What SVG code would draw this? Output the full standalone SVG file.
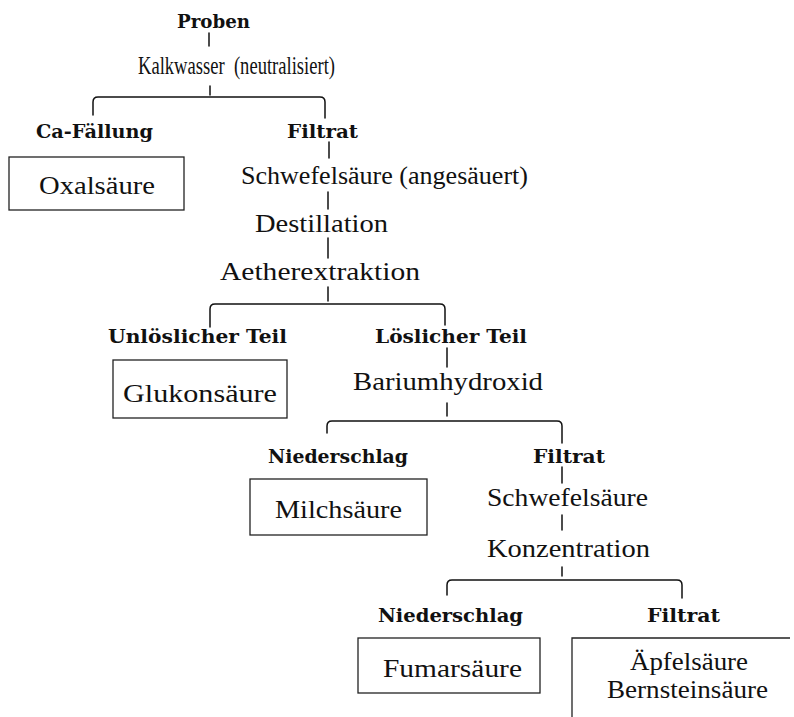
<svg xmlns="http://www.w3.org/2000/svg" width="794" height="717" viewBox="0 0 794 717">
<style>
.b{font-family:"DejaVu Serif","Liberation Serif",serif;font-weight:bold;font-size:18px;fill:#111}
.r{font-family:"Liberation Serif","Times New Roman",serif;font-size:25px;fill:#111}
.c{fill:none;stroke:#111;stroke-width:1.5;stroke-linecap:round}
.box{fill:none;stroke:#222;stroke-width:1.3}
</style>
<rect width="794" height="717" fill="#fff"/>
<g id="connectors" class="c">
<path d="M209,33V46"/>
<path d="M210,86V95"/>
<path d="M93,115V102Q93,97 98,97H320Q325,97 325,102V118"/>
<path d="M329,142V158"/>
<path d="M328,192V209"/>
<path d="M328,238V258"/>
<path d="M328,287V301"/>
<path d="M210,327V309Q210,304 215,304H440Q445,304 445,309V325"/>
<path d="M447,348V367"/>
<path d="M447,403V416"/>
<path d="M327,433V426Q327,421 332,421H557Q562,421 562,426V443"/>
<path d="M562,467V483"/>
<path d="M562,515V530"/>
<path d="M562,567V576"/>
<path d="M447,595V585Q447,580 452,580H677Q682,580 682,585V598"/>
</g>
<g id="proben"><text class="b" x="177" y="28" font-size="17" textLength="73" lengthAdjust="spacingAndGlyphs">Proben</text></g>
<g id="kalkwasser"><text class="r" x="138" y="74" font-size="18" textLength="197" lengthAdjust="spacingAndGlyphs" xml:space="preserve">Kalkwasser  (neutralisiert)</text></g>
<g id="ca-faellung"><text class="b" x="36" y="138" textLength="117" lengthAdjust="spacingAndGlyphs">Ca-Fällung</text></g>
<g id="oxalsaeure"><rect class="box" x="9" y="157" width="175" height="53"/><text class="r" x="39" y="194" textLength="116" lengthAdjust="spacingAndGlyphs">Oxalsäure</text></g>
<g id="filtrat1"><text class="b" x="287" y="138" textLength="71" lengthAdjust="spacingAndGlyphs">Filtrat</text></g>
<g id="schwefelsaeure1"><text class="r" x="241" y="184" textLength="287" lengthAdjust="spacingAndGlyphs">Schwefelsäure (angesäuert)</text></g>
<g id="destillation"><text class="r" x="255" y="232" textLength="133" lengthAdjust="spacingAndGlyphs">Destillation</text></g>
<g id="aetherextraktion"><text class="r" x="220" y="280" textLength="200" lengthAdjust="spacingAndGlyphs">Aetherextraktion</text></g>
<g id="unloeslich"><text class="b" x="108" y="343" textLength="179" lengthAdjust="spacingAndGlyphs">Unlöslicher Teil</text></g>
<g id="glukonsaeure"><rect class="box" x="113" y="360" width="174" height="58"/><text class="r" x="123" y="402" textLength="154" lengthAdjust="spacingAndGlyphs">Glukonsäure</text></g>
<g id="loeslich"><text class="b" x="375" y="343" textLength="152" lengthAdjust="spacingAndGlyphs">Löslicher Teil</text></g>
<g id="bariumhydroxid"><text class="r" x="353" y="390" textLength="190" lengthAdjust="spacingAndGlyphs">Bariumhydroxid</text></g>
<g id="niederschlag1"><text class="b" x="268" y="463" textLength="140" lengthAdjust="spacingAndGlyphs">Niederschlag</text></g>
<g id="milchsaeure"><rect class="box" x="250" y="479" width="177" height="56"/><text class="r" x="275" y="518" textLength="127" lengthAdjust="spacingAndGlyphs">Milchsäure</text></g>
<g id="filtrat2"><text class="b" x="533" y="463" textLength="72" lengthAdjust="spacingAndGlyphs">Filtrat</text></g>
<g id="schwefelsaeure2"><text class="r" x="487" y="506" textLength="161" lengthAdjust="spacingAndGlyphs">Schwefelsäure</text></g>
<g id="konzentration"><text class="r" x="487" y="557" textLength="163" lengthAdjust="spacingAndGlyphs">Konzentration</text></g>
<g id="niederschlag2"><text class="b" x="378" y="622" textLength="145" lengthAdjust="spacingAndGlyphs">Niederschlag</text></g>
<g id="fumarsaeure"><rect class="box" x="358" y="638" width="182" height="55"/><text class="r" x="383" y="677" textLength="139" lengthAdjust="spacingAndGlyphs">Fumarsäure</text></g>
<g id="filtrat3"><text class="b" x="647" y="622" textLength="73" lengthAdjust="spacingAndGlyphs">Filtrat</text></g>
<g id="aepfel-bernstein"><path class="box" d="M572,717V638H790"/><text class="r" x="630" y="670" textLength="118" lengthAdjust="spacingAndGlyphs">Äpfelsäure</text><text class="r" x="607" y="698" textLength="161" lengthAdjust="spacingAndGlyphs">Bernsteinsäure</text></g>
</svg>
